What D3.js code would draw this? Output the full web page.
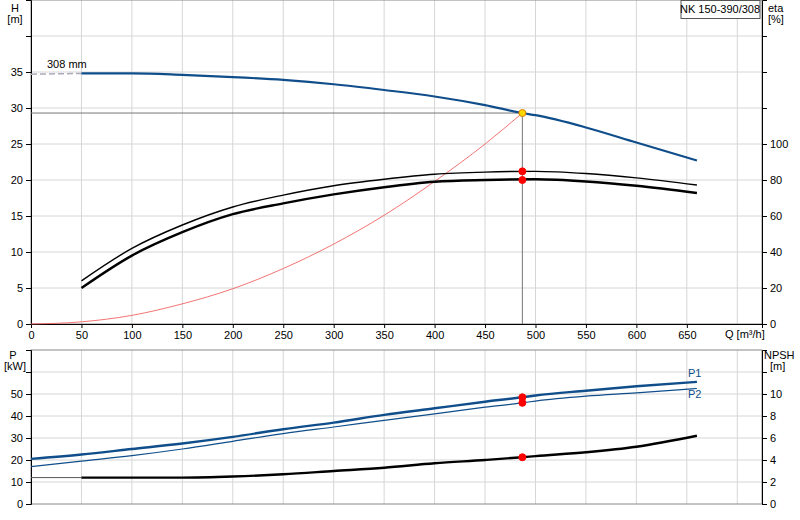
<!DOCTYPE html>
<html><head><meta charset="utf-8">
<script src="https://cdn.jsdelivr.net/npm/d3@7"></script>
<style>body{margin:0;background:#fff;font-family:"Liberation Sans",Arial,sans-serif;}</style>
</head><body><div id="chart"></div>
<script>
// pump curve data
const qH = [0, 50, 100, 150, 200, 250, 300, 350, 400, 450, 487, 500, 550, 600, 660];
const head = [34.8, 34.8, 34.8, 34.6, 34.3, 33.9, 33.3, 32.5, 31.6, 30.4, 29.3, 29.0, 27.3, 25.2, 22.7];
const qEta = [50, 100, 150, 200, 250, 300, 350, 400, 450, 500, 550, 600, 660];
const etaPump = [20, 38, 51, 61, 67, 72, 76, 79, 80, 80.4, 79.2, 76.8, 72.8];
const etaTotal = [24, 42, 55, 65, 71.6, 76.8, 80.4, 83.2, 84.4, 84.8, 83.6, 81.2, 77.2];
const qSys = [0, 50, 100, 150, 200, 250, 300, 350, 400, 450, 487];
const hSys = [0, 0.3, 1.2, 2.8, 4.9, 7.7, 11.1, 15.1, 19.8, 25.0, 29.3];
const qP = [0, 50, 100, 150, 200, 250, 300, 350, 400, 450, 487, 500, 550, 600, 660];
const p1 = [20.5, 22.5, 25, 27.5, 30.5, 34, 37, 40.5, 43.5, 46.5, 48.5, 49.3, 51.5, 53.5, 55.5];
const p2 = [17, 19.5, 22, 25, 28.5, 32, 35, 38, 41, 44, 46, 46.8, 49, 50.5, 52.5];
const npsh = [2.4, 2.4, 2.4, 2.4, 2.5, 2.7, 3.0, 3.3, 3.7, 4.0, 4.25, 4.35, 4.7, 5.2, 6.2];
const qTicks = [0, 50, 100, 150, 200, 250, 300, 350, 400, 450, 500, 550, 600, 650];
const opQ = 487, opH = 29.3, opEta = [80, 84.8], opP = [48.5, 46], opNpsh = 4.25;

const W = 800, H = 520, L = 31, R = 762;
const svg = d3.select('#chart').append('svg').attr('width', W).attr('height', H)
  .style('font-size', '11px');

const x = d3.scaleLinear().domain([0, 724.5]).range([L, R]);
const yH = d3.scaleLinear().domain([0, 45]).range([324, 0]);
const yEta = d3.scaleLinear().domain([0, 180]).range([324, 0]);
const yP = d3.scaleLinear().domain([0, 70]).range([504, 350]);
const yN = d3.scaleLinear().domain([0, 14]).range([504, 350]);

const grid = '#d6d6d6';
function panel(y, top, bottom, hTicks) {
  const g = svg.append('g');
  g.selectAll('.vg').data(d3.range(50, 701, 50)).enter().append('line')
    .attr('x1', d => x(d)).attr('x2', d => x(d)).attr('y1', top).attr('y2', bottom)
    .attr('stroke', grid);
  g.selectAll('.hg').data(hTicks).enter().append('line')
    .attr('x1', L).attr('x2', R).attr('y1', d => y(d)).attr('y2', d => y(d))
    .attr('stroke', grid);
  g.append('rect').attr('x', L).attr('y', top).attr('width', R - L).attr('height', bottom - top)
    .attr('fill', 'none').attr('stroke', '#888');
}
panel(yH, 0, 324, d3.range(5, 45, 5));
panel(yP, 350, 504, d3.range(10, 70, 10));

function axis(gen, tx, ty) {
  const a = svg.append('g').attr('transform', `translate(${tx},${ty})`).call(gen);
  a.select('.domain').attr('stroke', '#000');
  a.selectAll('text').attr('fill', '#000').style('font-family', 'inherit').style('font-size', '11px');
  return a;
}
axis(d3.axisLeft(yH).tickValues(d3.range(0, 45, 5)).tickSize(5)
  .tickFormat(d => d <= 35 ? d : ''), L, 0);
axis(d3.axisRight(yEta).tickValues(d3.range(0, 180, 20)).tickSize(5)
  .tickFormat(d => d <= 100 ? d : ''), R, 0);
axis(d3.axisBottom(x).tickValues(qTicks).tickSize(4), 0, 324);
axis(d3.axisLeft(yP).tickValues(d3.range(0, 70, 10)).tickSize(5)
  .tickFormat(d => d <= 50 ? d : ''), L, 0);
axis(d3.axisRight(yN).tickValues(d3.range(0, 14, 2)).tickSize(5)
  .tickFormat(d => d <= 10 ? d : ''), R, 0);

const txt = (tx, ty, s, anchor) => svg.append('text').attr('x', tx).attr('y', ty)
  .attr('text-anchor', anchor || 'start').attr('fill', '#000').text(s);
txt(15, 12, 'H', 'middle'); txt(15, 23, '[m]', 'middle');
txt(768, 12, 'eta'); txt(768, 23, '[%]');
txt(13, 359, 'P', 'middle'); txt(15, 370, '[kW]', 'middle');
txt(764, 359, 'NPSH'); txt(770, 370, '[m]');
svg.append('text').attr('x', 725).attr('y', 338).attr('fill', '#000')
  .attr('text-anchor', 'start').html('Q [m³/h]');
txt(47, 68, '308 mm');
svg.append('rect').attr('x', 681).attr('y', 0.5).attr('width', 79).attr('height', 18)
  .attr('fill', '#fff').attr('stroke', '#555');
txt(720, 13, 'NK 150-390/308', 'middle');

const line = (xs, ys, yS, color, w) => svg.append('path')
  .datum(xs.map((q, i) => [q, ys[i]]))
  .attr('d', d3.line().x(d => x(d[0])).y(d => yS(d[1])).curve(d3.curveMonotoneX))
  .attr('fill', 'none').attr('stroke', color).attr('stroke-width', w);

// crosshair at duty point
svg.append('line').attr('x1', L).attr('x2', x(opQ)).attr('y1', yH(opH)).attr('y2', yH(opH))
  .attr('stroke', '#777');
svg.append('line').attr('x1', x(opQ)).attr('x2', x(opQ)).attr('y1', yH(opH)).attr('y2', 324)
  .attr('stroke', '#777');

line(qSys, hSys, yH, '#f05050', 0.8);
svg.append('line').attr('x1', L).attr('x2', x(50)).attr('y1', yH(34.7)).attr('y2', yH(34.8))
  .attr('stroke', '#aab').attr('stroke-width', 1.5).attr('stroke-dasharray', '6,3');
line(qH.slice(1), head.slice(1), yH, '#104e8b', 2.2);
line(qEta, etaTotal, yEta, '#000', 1.4);
line(qEta, etaPump, yEta, '#000', 2.4);

line(qP, p1, yP, '#104e8b', 2.4);
line(qP, p2, yP, '#104e8b', 1.2);
line(qP.slice(0, 2), npsh.slice(0, 2), yN, '#555', 1);
line(qP.slice(1), npsh.slice(1), yN, '#000', 2.4);
txt(688, 377, 'P1').attr('fill', '#104e8b');
txt(688, 398, 'P2').attr('fill', '#104e8b');

const dot = (yv, yS, fill) => svg.append('circle').attr('cx', x(opQ)).attr('cy', yS(yv))
  .attr('r', 3.5).attr('fill', fill).attr('stroke', fill === 'red' ? 'red' : '#e08000');
opEta.forEach(v => dot(v, yEta, 'red'));
opP.forEach(v => dot(v, yP, 'red'));
dot(opNpsh, yN, 'red');
dot(opH, yH, '#ffd800');
</script></body></html>
